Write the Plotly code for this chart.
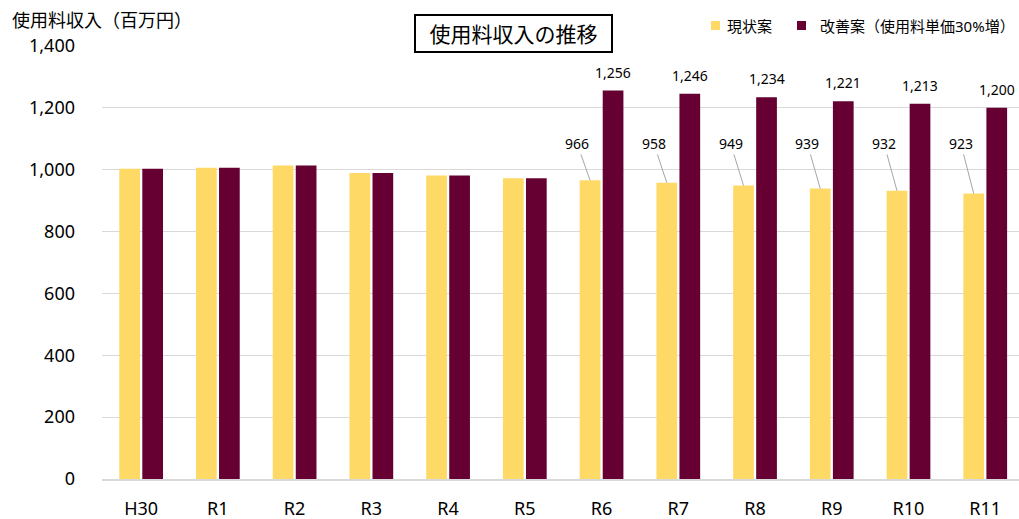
import plotly.graph_objects as go

categories = ["H30", "R1", "R2", "R3", "R4", "R5", "R6", "R7", "R8", "R9", "R10", "R11"]
current_plan = [1003, 1006, 1014, 989, 981, 972, 966, 958, 949, 939, 932, 923]
improved_plan = [1003, 1006, 1014, 989, 981, 972, 1256, 1246, 1234, 1221, 1213, 1200]
label_start = 6  # data labels shown from R6 onward
series_names = ["現状案", "改善案（使用料単価30%増）"]
title_text = "使用料収入の推移"
y_title = "使用料収入（百万円）"

YELLOW = "#FFD966"
MAROON = "#660033"
FONT = "Noto Sans, Noto Sans CJK JP, sans-serif"
BARGAP = 0.4

W, H = 1019, 519
PLOT_L, PLOT_R, PLOT_T, PLOT_B = 102, 1019, 46, 479  # window pixels
ML, MR, MT, MB = PLOT_L, W - PLOT_R, PLOT_T, H - PLOT_B
pw, ph = W - ML - MR, H - MT - MB


def px_to_paper(x, y):
    return (x - PLOT_L) / pw, (PLOT_B - y) / ph


fig = go.Figure()
fig.add_trace(go.Bar(x=categories, y=current_plan, name=series_names[0],
                     marker=dict(color=YELLOW, line=dict(width=0))))
fig.add_trace(go.Bar(x=categories, y=improved_plan, name=series_names[1],
                     marker=dict(color=MAROON, line=dict(width=0))))

annotations = []
slot = (1 - BARGAP) / 2
for i in range(label_start, len(categories)):
    annotations.append(dict(x=i + slot / 2, y=improved_plan[i], xref="x", yref="y",
                            text=f"{improved_plan[i]:,}", showarrow=False,
                            yanchor="bottom", yshift=7,
                            font=dict(family=FONT, size=14, color="#000")))
    annotations.append(dict(x=i - slot / 2, y=current_plan[i], xref="x", yref="y",
                            text=f"{current_plan[i]:,}", showarrow=True,
                            arrowhead=0, arrowwidth=1, arrowcolor="#A6A6A6",
                            ax=-13, ay=1085, axref="pixel", ayref="y",
                            font=dict(family=FONT, size=14, color="#000")))

tx, ty = px_to_paper(10, 20)
annotations.append(dict(x=tx, y=ty, xref="paper", yref="paper", xanchor="left",
                        yanchor="middle", text=y_title, showarrow=False,
                        font=dict(family=FONT, size=18, color="#000")))
bx, by = px_to_paper(513, 33)
annotations.append(dict(x=bx, y=by, xref="paper", yref="paper", showarrow=False,
                        xanchor="center", yanchor="middle",
                        text=title_text, bordercolor="#000", borderwidth=2,
                        borderpad=5, bgcolor="#fff", width=185, height=25,
                        font=dict(family=FONT, size=21, color="#000")))

# legend drawn manually (square swatch + text)
shapes = []
legend_items = [(series_names[0], YELLOW, 711, 725, "left"),
                (series_names[1], MAROON, 797, 1017, "right")]
for name, color, sq_x, txt_x, anchor in legend_items:
    x0, y0 = px_to_paper(sq_x, 30)
    x1, y1 = px_to_paper(sq_x + 9, 21)
    shapes.append(dict(type="rect", xref="paper", yref="paper", x0=x0, x1=x1, y0=y0, y1=y1,
                       fillcolor=color, line=dict(width=0)))
    ax_, ay_ = px_to_paper(txt_x, 26)
    annotations.append(dict(x=ax_, y=ay_, xref="paper", yref="paper", xanchor=anchor,
                            yanchor="middle", text=name, showarrow=False,
                            font=dict(family=FONT, size=15, color="#000")))

fig.update_layout(
    width=W, height=H,
    margin=dict(l=ML, r=MR, t=MT, b=MB, pad=0, autoexpand=False),
    paper_bgcolor="white", plot_bgcolor="white",
    barmode="group", bargap=BARGAP, bargroupgap=0.1,
    font=dict(family=FONT, color="#000"),
    showlegend=False,
    annotations=annotations,
    shapes=shapes,
    xaxis=dict(range=[-0.51, 11.44], showgrid=False, showline=True, linecolor="#D9D9D9",
               linewidth=2, ticks="", tickfont=dict(family=FONT, size=18),
               ticklabelstandoff=12, fixedrange=True),
    yaxis=dict(range=[0, 1400], dtick=200, tickformat=",", showgrid=True,
               gridcolor="#D9D9D9", gridwidth=1, zeroline=False, showline=False,
               ticks="", tickfont=dict(family=FONT, size=18), ticklabelstandoff=26,
               fixedrange=True),
)

fig.write_html(
    "out.html",
    config={"displayModeBar": False},
    post_script="document.body.style.margin='0';document.body.style.overflow='hidden';",
)
